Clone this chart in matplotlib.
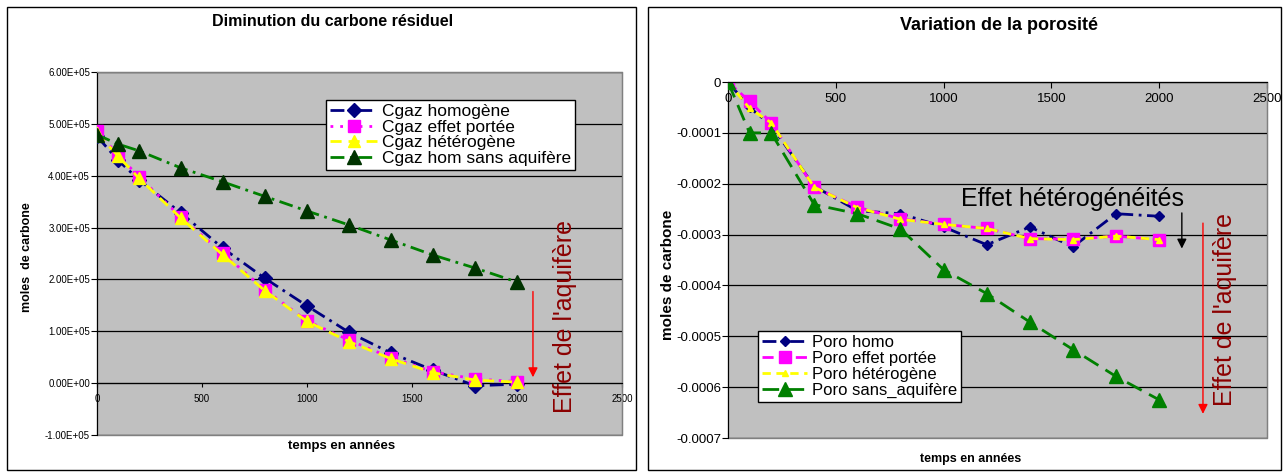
import matplotlib
matplotlib.use('Agg')
import matplotlib.pyplot as plt
from matplotlib.patches import Rectangle

plt.rcParams['font.family'] = ['Liberation Sans', 'DejaVu Sans']

W, H = 1284, 473

# ---------------- data ----------------
years = [0, 100, 200, 400, 600, 800, 1000, 1200, 1400, 1600, 1800, 2000]

cgaz_homogene = [4.76e5, 4.30e5, 3.92e5, 3.28e5, 2.60e5, 2.02e5, 1.49e5, 0.98e5, 0.58e5, 0.25e5, -0.05e5, -0.02e5]
cgaz_portee = [4.86e5, 4.40e5, 3.98e5, 3.20e5, 2.50e5, 1.80e5, 1.20e5, 0.83e5, 0.49e5, 0.22e5, 0.08e5, 0.03e5]
cgaz_hetero = [4.82e5, 4.38e5, 3.95e5, 3.18e5, 2.47e5, 1.78e5, 1.19e5, 0.80e5, 0.47e5, 0.20e5, 0.06e5, 0.02e5]
cgaz_sans = [4.79e5, 4.61e5, 4.48e5, 4.15e5, 3.88e5, 3.60e5, 3.32e5, 3.05e5, 2.76e5, 2.47e5, 2.22e5, 1.95e5]

poro_homo = [0, -0.50e-4, -0.85e-4, -2.05e-4, -2.53e-4, -2.59e-4, -2.85e-4, -3.20e-4, -2.85e-4, -3.24e-4, -2.59e-4, -2.64e-4]
poro_portee = [0, -0.38e-4, -0.80e-4, -2.07e-4, -2.46e-4, -2.69e-4, -2.80e-4, -2.88e-4, -3.08e-4, -3.09e-4, -3.03e-4, -3.10e-4]
poro_hetero = [0, -0.52e-4, -0.80e-4, -2.07e-4, -2.47e-4, -2.70e-4, -2.80e-4, -2.88e-4, -3.08e-4, -3.10e-4, -3.03e-4, -3.10e-4]
poro_sans = [0, -1.00e-4, -1.00e-4, -2.41e-4, -2.59e-4, -2.89e-4, -3.69e-4, -4.16e-4, -4.72e-4, -5.26e-4, -5.79e-4, -6.25e-4]

x_ticks = [0, 500, 1000, 1500, 2000, 2500]
left_yticks = [6e5, 5e5, 4e5, 3e5, 2e5, 1e5, 0, -1e5]
left_ylabels = ['6.00E+05', '5.00E+05', '4.00E+05', '3.00E+05', '2.00E+05', '1.00E+05', '0.00E+00', '-1.00E+05']
right_yticks = [0, -1e-4, -2e-4, -3e-4, -4e-4, -5e-4, -6e-4, -7e-4]
right_ylabels = ['0', '-0.0001', '-0.0002', '-0.0003', '-0.0004', '-0.0005', '-0.0006', '-0.0007']

left_names = ['Cgaz homogène', 'Cgaz effet portée', 'Cgaz hétérogène', 'Cgaz hom sans aquifère']
right_names = ['Poro homo', 'Poro effet portée', 'Poro hétérogène', 'Poro sans_aquifère']

# ---------------- figure ----------------
fig = plt.figure(figsize=(W / 100, H / 100), dpi=100)
fig.patch.set_facecolor('white')


def px_axes(x0, y0, x1, y1):
    return fig.add_axes([x0 / W, 1 - y1 / H, (x1 - x0) / W, (y1 - y0) / H])


def frame(x0, y0, x1, y1):
    fig.patches.append(Rectangle((x0 / W, 1 - y1 / H), (x1 - x0) / W, (y1 - y0) / H,
                                 transform=fig.transFigure, fill=False,
                                 edgecolor='black', lw=1.0))


frame(7, 7, 636, 470)
frame(648, 7, 1281, 470)

GRAY = '#C0C0C0'

# ---------------- left chart ----------------
ax1 = px_axes(97, 72, 622, 435)
ax1.set_facecolor(GRAY)
ax1.set_xlim(0, 2500)
ax1.set_ylim(-1e5, 6e5)
for s in ['top', 'right']:
    ax1.spines[s].set_color('#808080')
ax1.spines['left'].set_color('black')
ax1.spines['bottom'].set_position(('data', 0))
ax1.spines['bottom'].set_color('black')
ax1.add_patch(Rectangle((0, 0), 1, 1, transform=ax1.transAxes, fill=False,
                        edgecolor='#808080', lw=1.0, zorder=0.5, clip_on=False))
ax1.set_yticks(left_yticks)
ax1.set_yticklabels(left_ylabels)
ax1.set_xticks(x_ticks)
ax1.set_xticklabels([str(v) for v in x_ticks])
ax1.tick_params(axis='y', labelsize=7, length=4, direction='out', pad=1)
ax1.tick_params(axis='x', labelsize=7, length=3, direction='out', pad=5)
ax1.yaxis.grid(True, color='black', lw=0.9)
ax1.set_axisbelow(True)

l1, = ax1.plot(years, cgaz_homogene, color='#000080', lw=2, linestyle=(0, (5, 2, 1, 2)),
               marker='D', ms=7.5, mfc='#000080', mec='#000080', zorder=3)
l2, = ax1.plot(years, cgaz_portee, color='#FF00FF', lw=2, linestyle=(0, (1, 2.5)),
               marker='s', ms=9, mfc='#FF00FF', mec='#FF00FF', zorder=3)
l3, = ax1.plot(years, cgaz_hetero, color='#FFFF00', lw=2, linestyle=(0, (4, 2.5)),
               marker='^', ms=9, mfc='#FFFF00', mec='#FFFF00', zorder=3)
l4, = ax1.plot(years, cgaz_sans, color='#008000', lw=2, linestyle=(0, (5, 2, 1, 2)),
               marker='^', ms=10, mfc='#003300', mec='#003300', zorder=3)

leg1 = ax1.legend([l1, l2, l3, l4], left_names, loc='upper left',
                  bbox_to_anchor=(326 / W, 1 - 100 / H), bbox_transform=fig.transFigure,
                  fontsize=12.5, frameon=True, fancybox=False, edgecolor='black',
                  framealpha=1, borderaxespad=0, borderpad=0.25, labelspacing=0.02,
                  handlelength=2.7, handletextpad=0.25, numpoints=1)
leg1.get_frame().set_linewidth(1.0)

ax1.annotate('', xy=(2076, 0.06e5), xytext=(2076, 1.82e5),
             arrowprops=dict(arrowstyle='-|>', color='red', lw=1, mutation_scale=14))
ax1.text(2229, 1.29e5, "Effet de l'aquifère", rotation=90, ha='center', va='center',
         fontsize=18, color='#8B0000')

fig.text(333 / W, 1 - 21 / H, 'Diminution du carbone résiduel', ha='center', va='center',
         fontsize=11.5, fontweight='bold')
fig.text(342 / W, 1 - 446 / H, 'temps en années', ha='center', va='center',
         fontsize=9.5, fontweight='bold')
fig.text(27 / W, 1 - 257 / H, 'moles  de carbone', ha='center', va='center', rotation=90,
         fontsize=9, fontweight='bold')

# ---------------- right chart ----------------
ax2 = px_axes(728, 82, 1267, 438)
ax2.set_facecolor(GRAY)
ax2.set_xlim(0, 2500)
ax2.set_ylim(-7e-4, 0)
for s in ['top', 'right']:
    ax2.spines[s].set_color('#808080')
ax2.spines['left'].set_color('black')
ax2.spines['bottom'].set_position(('data', 0))
ax2.spines['bottom'].set_color('black')
ax2.spines['bottom'].set_zorder(4)
ax2.add_patch(Rectangle((0, 0), 1, 1, transform=ax2.transAxes, fill=False,
                        edgecolor='#808080', lw=1.0, zorder=0.5, clip_on=False))
ax2.set_yticks(right_yticks)
ax2.set_yticklabels(right_ylabels)
ax2.set_xticks(x_ticks)
ax2.set_xticklabels([str(v) for v in x_ticks])
ax2.tick_params(axis='y', labelsize=9.5, length=4, direction='out', pad=1)
ax2.tick_params(axis='x', labelsize=9.5, length=4, direction='out', pad=4)
ax2.yaxis.grid(True, color='black', lw=0.9)
ax2.set_axisbelow(True)

r1, = ax2.plot(years, poro_homo, color='#000080', lw=2, linestyle=(0, (5, 2, 1, 2)),
               marker='D', ms=5.5, mfc='#000080', mec='#000080', zorder=3)
r2, = ax2.plot(years, poro_portee, color='#FF00FF', lw=2, linestyle=(0, (4, 2)),
               marker='s', ms=8, mfc='#FF00FF', mec='#FF00FF', zorder=3)
r3, = ax2.plot(years, poro_hetero, color='#FFFF00', lw=2, linestyle=(0, (3, 2)),
               marker='^', ms=5, mfc='#FFFF00', mec='#FFFF00', zorder=3)
r4, = ax2.plot(years, poro_sans, color='#008000', lw=2, linestyle=(0, (6, 3)),
               marker='^', ms=10, mfc='#008000', mec='#008000', zorder=3)

leg2 = ax2.legend([r1, r2, r3, r4], right_names, loc='upper left',
                  bbox_to_anchor=(758 / W, 1 - 331 / H), bbox_transform=fig.transFigure,
                  fontsize=12, frameon=True, fancybox=False, edgecolor='black',
                  framealpha=1, borderaxespad=0, borderpad=0.25, labelspacing=0.05,
                  handlelength=2.7, handletextpad=0.3, numpoints=1)
leg2.get_frame().set_linewidth(1.0)

ax2.annotate('', xy=(2105, -3.33e-4), xytext=(2105, -2.52e-4),
             arrowprops=dict(arrowstyle='-|>', color='black', lw=1, mutation_scale=14))
ax2.annotate('', xy=(2203, -6.58e-4), xytext=(2203, -2.72e-4),
             arrowprops=dict(arrowstyle='-|>', color='red', lw=1, mutation_scale=14))
ax2.text(1597, -2.31e-4, 'Effet hétérogénéités', ha='center', va='center',
         fontsize=18, color='black')
ax2.text(2305, -4.47e-4, "Effet de l'aquifère", rotation=90, ha='center', va='center',
         fontsize=18, color='#8B0000')

fig.text(999 / W, 1 - 25 / H, 'Variation de la porosité', ha='center', va='center',
         fontsize=13, fontweight='bold')
fig.text(971 / W, 1 - 459 / H, 'temps en années', ha='center', va='center',
         fontsize=9, fontweight='bold')
fig.text(668 / W, 1 - 275 / H, 'moles de carbone', ha='center', va='center', rotation=90,
         fontsize=11, fontweight='bold')

fig.savefig('out.png', dpi=100)
